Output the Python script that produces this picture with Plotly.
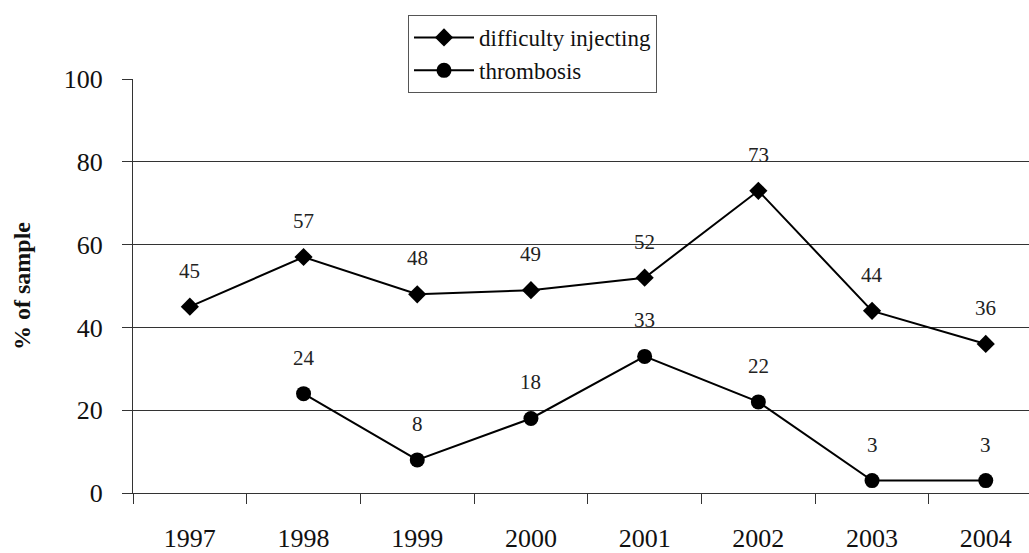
import plotly.graph_objects as go

years = ["1997", "1998", "1999", "2000", "2001", "2002", "2003", "2004"]
difficulty_injecting = [45, 57, 48, 49, 52, 73, 44, 36]
thrombosis = [None, 24, 8, 18, 33, 22, 3, 3]
y_ticks = [0, 20, 40, 60, 80, 100]

FONT = "'Liberation Serif', 'DejaVu Serif', serif"
xpos = list(range(len(years)))

fig = go.Figure()
fig.add_trace(go.Scatter(
    x=xpos, y=difficulty_injecting, name="difficulty injecting",
    mode="lines+markers",
    line=dict(color="black", width=2),
    marker=dict(symbol="diamond", size=14, color="black"),
))
fig.add_trace(go.Scatter(
    x=xpos, y=thrombosis, name="thrombosis",
    mode="lines+markers",
    line=dict(color="black", width=2),
    marker=dict(symbol="circle", size=15, color="black"),
))

# value labels above each point
for series in (difficulty_injecting, thrombosis):
    for xi, v in zip(xpos, series):
        if v is None:
            continue
        fig.add_annotation(
            x=xi, y=v, text=str(v), showarrow=False, yshift=36,
            font=dict(family=FONT, size=21, color="#222"),
        )

fig.update_layout(
    width=1029, height=553,
    margin=dict(l=133, r=0, t=79, b=60),
    paper_bgcolor="white", plot_bgcolor="white",
    font=dict(family=FONT, color="#111"),
    showlegend=True,
    legend=dict(
        x=(408 - 133) / 896, y=(493 - 15) / 414,
        xanchor="left", yanchor="top",
        bgcolor="white", bordercolor="#555", borderwidth=1,
        font=dict(family=FONT, size=23, color="#111"),
        itemwidth=60, tracegroupgap=0,
    ),
    xaxis=dict(
        range=[-0.5, -0.5 + 896 / 113.7],
        tickvals=xpos, ticktext=years,
        ticks="outside", ticklen=22, tickcolor="rgba(0,0,0,0)",
        tickfont=dict(family=FONT, size=26, color="#111"),
        showgrid=False, zeroline=False,
        showline=True, linecolor="#333", linewidth=1,
        minor=dict(
            tickvals=[i - 0.5 for i in range(len(years) + 1)],
            ticks="outside", ticklen=10, tickcolor="#333", tickwidth=1,
            showgrid=False,
        ),
    ),
    yaxis=dict(
        range=[0, 100], tickvals=y_ticks,
        ticks="outside", ticklen=10, tickcolor="#333",
        ticklabelstandoff=14,
        tickfont=dict(family=FONT, size=26, color="#111"),
        showgrid=True, gridcolor="#333", gridwidth=1,
        zeroline=False,
        showline=True, linecolor="#333", linewidth=1,
        title=dict(text="<b>% of sample</b>", standoff=26,
                   font=dict(family=FONT, size=24, color="#111")),
    ),
)

fig.write_html("out.html")
